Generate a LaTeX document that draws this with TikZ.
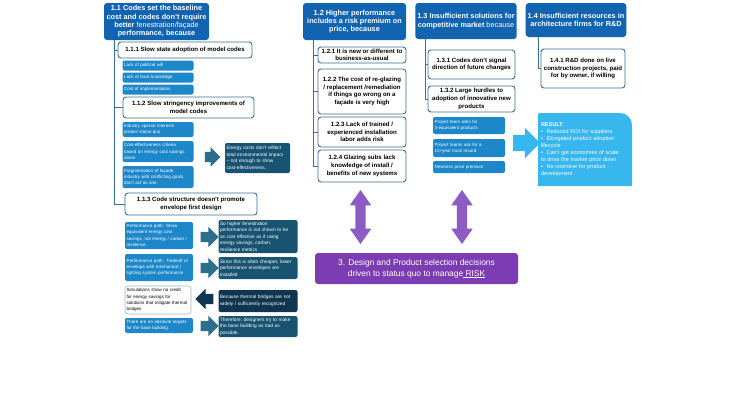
\documentclass[tikz,border=0pt]{standalone}
\usepackage{fontspec}
\setmainfont{Liberation Sans}
\usetikzlibrary{shapes.arrows,backgrounds}

\definecolor{headblue}{RGB}{18,100,176}
\definecolor{leafblue}{RGB}{28,135,201}
\definecolor{subline}{RGB}{62,110,142}
\definecolor{darkteal}{RGB}{24,84,114}
\definecolor{darkerteal}{RGB}{14,54,80}
\definecolor{arrowteal}{RGB}{45,110,140}
\definecolor{resblue}{RGB}{56,182,238}
\definecolor{riskpurple}{RGB}{124,60,178}
\definecolor{arrowpurple}{RGB}{140,92,196}

\begin{document}
\begin{tikzpicture}[x = 1pt, y = -1pt,
    every node/.style = {inner sep = 2pt, outer sep = 0pt},
    size/.style 2 args = {minimum width = #1pt, minimum height = #2pt},
    head/.style = {fill = headblue, text = white, rounded corners = 3pt, align = center,
        inner ysep = 1pt, font = \fontsize{7.3}{8.3}\selectfont\bfseries},
    sub/.style = {draw = subline, line width = 0.9pt, fill = white, rounded corners = 3pt,
        align = center, inner ysep = 1pt, font = \fontsize{6.1}{7.6}\selectfont\bfseries},
    leaf/.style = {fill = leafblue, text = white, rounded corners = 2pt, align = left,
        inner xsep = 1.5pt, inner ysep = 0.5pt, font = \fontsize{4.5}{6.3}\selectfont},
    dark/.style = {fill = darkteal, text = white, rounded corners = 2pt, align = left,
        inner xsep = 1.5pt, inner ysep = 0.5pt, font = \fontsize{4.8}{6.5}\selectfont},
    tree/.style = {draw = subline, line width = 0.9pt},
    blockarrow/.style = {single arrow, fill = arrowteal, inner sep = 5pt, minimum height = 18pt,
        minimum width = 0pt, single arrow head extend = 5pt}]

\useasboundingbox (0,0) rectangle (735,405);

% 1.1 codes
\node[head, size = {105}{37}] (h11) at (156.5,21.5) {1.1 Codes set the baseline\\cost and codes don't require\\better \mdseries fenestration/façade\\performance, because};
\node[sub, size = {134}{16}] (s111) at (185,50) {1.1.1 Slow state adoption of model codes};
\node[leaf, size = {71}{10}, text width = 68pt] (l1) at (158,65.5) {Lack of political will};
\node[leaf, size = {71}{10}, text width = 68pt] (l2) at (158,77.5) {Lack of local knowledge};
\node[leaf, size = {71}{10}, text width = 68pt] (l3) at (158,89.5) {Cost of implementation};
\node[sub, size = {131}{21}] (s112) at (188.5,107.5) {1.1.2 Slow stringency improvements of\\model codes};
\node[leaf, size = {71}{15}, text width = 68pt] (l4) at (158,129.5) {Industry special interests\\protect status-quo};
\node[leaf, size = {71}{21}, text width = 68pt] (l5) at (158,151.5) {Cost-effectiveness criteria\\based on energy cost savings\\alone};
\node[leaf, size = {71}{22}, text width = 68pt] (l6) at (158,177) {Fragmentation of façade\\industry with conflicting goals,\\don't act as one.};
\node[blockarrow, minimum height = 15pt, single arrow head extend = 4.5pt] (a1) at (210,157) {};
\node[dark, size = {65}{30}, text width = 62pt] (d1) at (257.5,158) {Energy costs don't reflect\\total environmental impact\\-- not enough to show\\cost-effectiveness.};
\node[sub, size = {132}{22}] (s113) at (191,204) {1.1.3 Code structure doesn't promote\\envelope first design};

\coordinate (t1) at ([xshift = 10pt]h11.south west);
\draw[tree] (t1) |- (s113.west);
\draw[tree] (t1 |- s111.west) -- (s111.west);
\draw[tree] (t1 |- s112.west) -- (s112.west);

% performance paths
\node[leaf, size = {68}{27}, text width = 65pt] (p1) at (159,235.5) {Performance path: Show\\equivalent energy cost\\savings, not energy / carbon /\\resilience.};
\node[blockarrow] (r1) at (207,237) {};
\node[dark, size = {79}{33}, text width = 76pt] (q1) at (258,236.5) {So higher fenestration\\performance is not shown to be\\as cost effective as if using\\energy savings, carbon,\\resilience metrics};
\node[leaf, size = {68}{27}, text width = 65pt] (p2) at (159,267.5) {Performance path: Tradeoff of\\envelope with mechanical /\\lighting system performance};
\node[blockarrow] (r2) at (207,268) {};
\node[dark, size = {79}{22}, text width = 76pt] (q2) at (258,268) {Since this is often cheaper, lower\\performance envelopes are\\installed};
\node[leaf, fill = white, text = black, draw = subline!50, line width = 0.6pt, rounded corners = 3pt,
    size = {66}{28}, text width = 63pt] (p3) at (158,300) {Simulations show no credit\\for energy savings for\\solutions that mitigate thermal\\bridges};
\node[blockarrow, fill = darkerteal, shape border rotate = 180] (r3) at (207,299) {};
\node[dark, fill = darkerteal, size = {79}{22}, text width = 76pt] (q3) at (258,301) {Because thermal bridges are not\\widely / sufficiently recognized};
\node[leaf, size = {68}{15}, text width = 65pt] (p4) at (159,325.5) {There are no absolute targets\\for the base building.};
\node[blockarrow] (r4) at (207,326) {};
\node[dark, size = {79}{21}, text width = 76pt] (q4) at (258,326.5) {Therefore, designers try to make\\the base building as bad as\\possible.};

% 1.2 risk premium
\node[head, size = {103}{37}] (h12) at (354.5,21.5) {1.2 Higher performance\\includes a risk premium on\\price, because};
\node[sub, size = {88}{16}] (s121) at (362,55) {1.2.1 It is new or different to\\business-as-usual};
\node[sub, size = {88}{45}] (s122) at (362,91.5) {1.2.2 The cost of re-glazing\\/ replacement /remediation\\if things go wrong on a\\façade is very high};
\node[sub, size = {88}{30}] (s123) at (362,132) {1.2.3 Lack of trained /\\experienced installation\\labor adds risk};
\node[sub, size = {88}{32}] (s124) at (362,166) {1.2.4 Glazing subs lack\\knowledge of install /\\benefits of new systems};

\coordinate (t2) at ([xshift = 10pt]h12.south west);
\draw[tree] (t2) |- (s124.west);
\draw[tree] (t2 |- s121.west) -- (s121.west);
\draw[tree] (t2 |- s122.west) -- (s122.west);
\draw[tree] (t2 |- s123.west) -- (s123.west);

% 1.3 solutions
\node[head, size = {100}{36}] (h13) at (466,21) {1.3 Insufficient solutions for\\competitive market \mdseries because};
\node[sub, size = {87}{29}] (s131) at (471.5,64.5) {1.3.1 Codes don't signal\\direction of future changes};
\node[sub, size = {87}{26}] (s132) at (471.5,99) {1.3.2 Large hurdles to\\adoption of innovative new\\products};
\node[leaf, size = {72}{17}, text width = 69pt] (m1) at (469,125.5) {Project team asks for\\3-equivalent products};
\node[leaf, size = {72}{18}, text width = 69pt] (m2) at (469,148) {Project teams ask for a\\10+year track record};
\node[leaf, size = {72}{12}, text width = 69pt] (m3) at (469,167) {Newness price premium};

\coordinate (t3) at ([xshift = 10pt]h13.south west);
\draw[tree] (t3) |- (s132.west);
\draw[tree] (t3 |- s131.west) -- (s131.west);

\node[blockarrow, fill = resblue, inner sep = 8pt, minimum height = 27pt,
    single arrow head extend = 7pt] (ra) at (522.5,143) {};

% 1.4 resources
\node[head, size = {98}{34}] (h14) at (576,20) {1.4 Insufficient resources in\\architecture firms for R\&D};
\node[sub, size = {84}{39}] (s141) at (583,68.5) {1.4.1 R\&D done on live\\construction projects, paid\\for by owner, if willing};

\coordinate (t4) at ([xshift = 13pt]h14.south west);
\draw[tree] (t4) |- (s141.west);

\node[dark, fill = none, size = {94}{73}, text width = 88pt, anchor = north, inner ysep = 4pt,
    font = \fontsize{5.5}{7}\selectfont] (res) at (585,113)
    {\textbf{RESULT:}\\\textbullet\ \ Reduced ROI for suppliers\\\textbullet\ \ Elongated product adoption\\lifecycle\\\textbullet\ \ Can't get economies of scale\\to drive the market price down\\\textbullet\ \ No incentive for product\\development};
\begin{scope}[on background layer]
    \fill[resblue] (res.south west) [rounded corners = 2pt] -- (res.north west)
        [rounded corners = 12pt] -- (res.north east) [rounded corners = 0pt] -- (res.south east) -- cycle;
\end{scope}

% risk
\node[double arrow, fill = arrowpurple, inner sep = 5pt, shape border rotate = 90, minimum height = 54pt,
    minimum width = 0pt, double arrow head extend = 5.5pt, double arrow tip angle = 70] (pa1) at (360.5,217) {};
\node[double arrow, fill = arrowpurple, inner sep = 5pt, shape border rotate = 90, minimum height = 54pt,
    minimum width = 0pt, double arrow head extend = 5.5pt, double arrow tip angle = 70] (pa2) at (462,217) {};
\node[fill = riskpurple, text = white, rounded corners = 3pt, size = {203}{31}, align = center,
    font = \fontsize{8.4}{11}\selectfont] (risk) at (416.5,268.5)
    {3. Design and Product selection decisions\\driven to status quo to manage\underline{\ RISK}};

\end{tikzpicture}
\end{document}
